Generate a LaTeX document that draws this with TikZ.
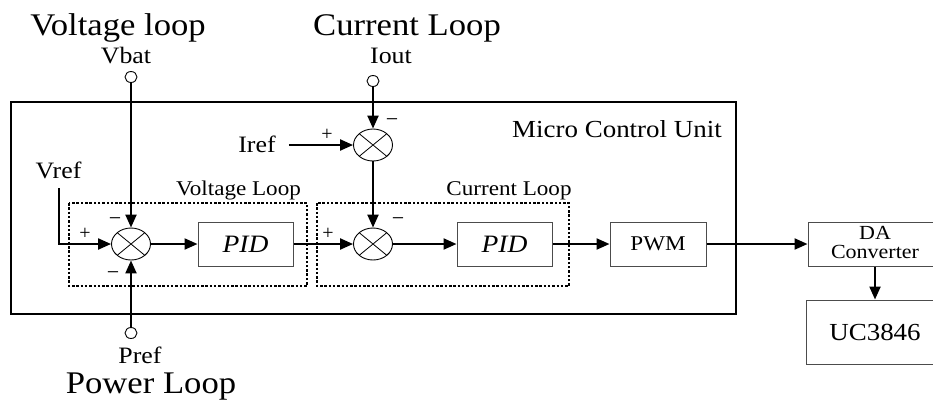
\documentclass[tikz,border=0pt]{standalone}
\usepackage{fontspec}
\setmainfont{Liberation Serif}
\usepackage{graphicx}
\usetikzlibrary{arrows.meta,shapes.geometric}
% slightly widened lettering
\newcommand{\wtext}[1]{\scalebox{1.1}[1]{#1}}

\tikzset{
  sig/.style={line width=2.2pt, -{Triangle[length=13pt,width=11pt]}},
  blockbox/.style={draw=black!70, line width=1pt, fill=white, minimum height=44pt, inner sep=0pt,
    font=\fontsize{21}{21}\selectfont},
  mixer/.style={ellipse, draw, line width=0.9pt, fill=white, minimum width=39pt, minimum height=32pt,
    inner sep=0pt,
    path picture={\draw[line width=0.8pt]
      (path picture bounding box.north west) -- (path picture bounding box.south east)
      (path picture bounding box.north east) -- (path picture bounding box.south west);}},
  terminal/.style={ellipse, draw, line width=0.9pt, fill=white, minimum width=12pt, minimum height=11pt, inner sep=0pt},
  title/.style={font=\fontsize{31.5}{31.5}\selectfont, anchor=base, inner sep=0pt},
  pinlabel/.style={font=\fontsize{23.5}{23.5}\selectfont, anchor=base, inner sep=0pt},
  looplabel/.style={font=\fontsize{21}{21}\selectfont, anchor=base, inner sep=0pt},
  boxtext/.style={font=\fontsize{20}{20}\selectfont, anchor=base, inner sep=0pt},
  plussign/.style={font=\fontsize{20}{20}\selectfont, inner sep=0pt},
  minussign/.style={font=\fontsize{22}{22}\selectfont, inner sep=0pt},
  mcu/.style={draw, line width=1.4pt},
  loopframe/.style={draw, line width=1.2pt, dash pattern=on 2.5pt off 1.8pt}
}

\begin{document}
\begin{tikzpicture}[x=1pt,y=-1pt]
\useasboundingbox (0,0) rectangle (933,400);

% outer controller frame and the two dotted loop frames
\draw[mcu] (11,102) rectangle (736,314);
\draw[loopframe] (69,203) rectangle (307,286);
\draw[loopframe] (317,203) rectangle (569,286);

% titles
\node[title] (tv) at (118,35) {\wtext{Voltage loop}};
\node[title] (tc) at (407,35) {\wtext{Current Loop}};
\node[title] (tp) at (151,393) {\wtext{Power Loop}};
\node[font=\fontsize{24.5}{24.5}\selectfont, anchor=base east, inner sep=0pt] (mcutxt) at (722,137) {\wtext{Micro Control Unit}};
\node[looplabel] (vl) at (238.5,195) {\wtext{Voltage Loop}};
\node[looplabel] (cl) at (509,195) {\wtext{Current Loop}};

% input labels
\node[pinlabel] (vbat) at (126,63) {\wtext{Vbat}};
\node[pinlabel] (iout) at (391,63) {\wtext{Iout}};
\node[pinlabel] (iref) at (257,152) {\wtext{Iref}};
\node[pinlabel] (vref) at (58.5,178) {\wtext{Vref}};
\node[pinlabel] (pref) at (140,363) {\wtext{Pref}};

% terminals
\node[terminal] (vbatT) at (131,77) {};
\node[terminal] (ioutT) at (373,81) {};
\node[terminal] (prefT) at (131,333) {};

% summing junctions
\node[mixer] (sum1) at (131,244) {};
\node[mixer] (sum2) at (373,145) {};
\node[mixer] (sum3) at (373,244) {};

% blocks
\node[blockbox, minimum width=95pt] (pid1) at (245.5,244) {\fontsize{25}{25}\selectfont\wtext{\itshape PID}};
\node[blockbox, minimum width=95pt] (pid2) at (504.5,244) {\fontsize{25}{25}\selectfont\wtext{\itshape PID}};
\node[blockbox, minimum width=96pt] (pwm) at (658,244) {\wtext{PWM}};
\node[blockbox, minimum width=134pt] (da) at (875,244) {};
\node[boxtext] (datxt) at (875,239) {\wtext{DA}};
\node[boxtext] (convtxt) at (875,258) {\wtext{Converter}};
\node[blockbox, minimum width=138pt, minimum height=64pt, font=\fontsize{24.5}{24.5}\selectfont] (uc) at (875,332) {\wtext{UC3846}};

% signal paths
\coordinate (vrefin) at (59,188);
\draw[sig] (vrefin) |- (sum1.west);
\draw[sig] (vbatT.south) -- (sum1.north);
\draw[sig] (prefT.north) -- (sum1.south);
\draw[sig] (sum1.east) -- (pid1.west);
\draw[sig] (pid1.east) -- (sum3.west);
\draw[sig] ([xshift=13pt]iref.east |- sum2.west) -- (sum2.west);
\draw[sig] (ioutT.south) -- (sum2.north);
\draw[sig] (sum2.south) -- (sum3.north);
\draw[sig] (sum3.east) -- (pid2.west);
\draw[sig] (pid2.east) -- (pwm.west);
\draw[sig] (pwm.east) -- (da.west);
\draw[sig] (da.south) -- (uc.north);

% signs at the junctions
\node[minussign] (s1a) at (115,222) {−};
\node[plussign] (s1b) at (85,234) {+};
\node[minussign] (s1c) at (113,276) {−};
\node[plussign] (s2a) at (327,135) {+};
\node[minussign] (s2b) at (392,123) {−};
\node[plussign] (s3a) at (328,234) {+};
\node[minussign] (s3b) at (398,222) {−};
\end{tikzpicture}
\end{document}
